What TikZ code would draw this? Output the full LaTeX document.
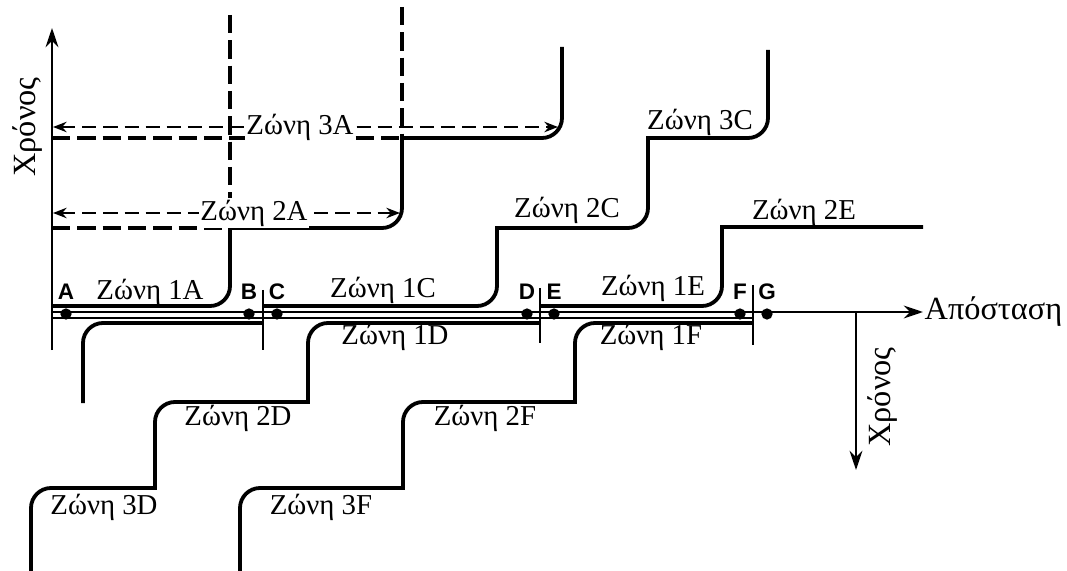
\documentclass[tikz,border=0pt]{standalone}
\usepackage{fontspec}
\setmainfont{Liberation Serif}
\newfontfamily\ptfont{Liberation Sans}
\usetikzlibrary{arrows.meta,positioning}

\begin{document}
\begin{tikzpicture}[x=0.025cm, y=-0.025cm,
  zone/.style={line width=2.7pt},
  rail/.style={line width=2pt},
  guide/.style={line width=2.2pt, dash pattern=on 13pt off 5pt},
  dimarrow/.style={{Stealth[length=3.4mm,width=2.6mm]}-{Stealth[length=3.4mm,width=2.6mm]},
    line width=1.6pt, dash pattern=on 10pt off 5pt},
  axis/.style={-{Stealth[length=4.8mm,width=3.2mm]}, line width=2pt},
  lbl/.style={font=\fontsize{20.5}{24}\selectfont, inner sep=1pt},
  ax/.style={font=\fontsize{23}{26}\selectfont, inner sep=1pt},
  pt/.style={font=\ptfont\bfseries\fontsize{16}{18}\selectfont, inner sep=0pt},
  dot/.style={circle, fill, inner sep=0pt, minimum size=8pt}]
\useasboundingbox (0,0) rectangle (1067,571);

% axes
\coordinate (o) at (52,312);
\coordinate (ytop) at (52,28);
\coordinate (ybot) at (52,350);
\coordinate (xend) at (923,312);
\coordinate (t0) at (856,312);
\coordinate (tend) at (856,470);
\draw[axis] (ybot) -- (ytop);
\draw[axis] (o) -- (xend);
\draw[rail] (52,318) -- (753,318);
\draw[axis] (t0) -- (tend);
\node[ax, rotate=90] (timeL) at (28,127) {Χρόνος};
\node[ax, anchor=west] (dist) at (xend) {Απόσταση};
\node[ax, rotate=90] (timeR) at (883,397) {Χρόνος};

% section ticks
\draw[rail] (263,290) -- (263,350);
\draw[rail] (540,288) -- (540,343);
\draw[rail] (753,285) -- (753,345);

% points
\foreach \n/\x in {A/66, B/249, C/277, D/527, E/554, F/740, G/767} {
  \node[dot] (p\n) at (\x,314) {};
  \node[pt, above=6pt of p\n] (l\n) {\n};
}

% upper zones
\draw[zone] (52,306) -- (210,306) .. controls (221,306) and (230,297) .. (230,286) -- (230,228)
  -- (382,228) .. controls (393,228) and (402,219) .. (402,208) -- (402,138)
  -- (542,138) .. controls (553,138) and (562,129) .. (562,118) -- (562,47);
\draw[zone] (263,306) -- (477,306) .. controls (488,306) and (497,297) .. (497,286) -- (497,228)
  -- (628,228) .. controls (639,228) and (648,219) .. (648,208) -- (648,138)
  -- (748,138) .. controls (759,138) and (768,129) .. (768,118) -- (768,50);
\draw[zone] (540,306) -- (702,306) .. controls (713,306) and (722,297) .. (722,286) -- (722,227)
  -- (923,227);

% lower zones
\draw[zone] (263,323) -- (103,323) .. controls (92,323) and (83,332) .. (83,343) -- (83,403);
\draw[zone] (540,323) -- (328,323) .. controls (317,323) and (308,332) .. (308,343) -- (308,402)
  -- (175,402) .. controls (164,402) and (155,411) .. (155,422) -- (155,488)
  -- (51,488) .. controls (40,488) and (31,497) .. (31,508) -- (31,571);
\draw[zone] (753,323) -- (595,323) .. controls (584,323) and (575,332) .. (575,343) -- (575,402)
  -- (423,402) .. controls (412,402) and (403,411) .. (403,422) -- (403,488)
  -- (260,488) .. controls (249,488) and (240,497) .. (240,508) -- (240,571);

% guides
\draw[guide] (230,15) -- (230,228);
\draw[guide] (402,7) -- (402,138);
\draw[guide] (52,228) -- (230,228);
\draw[guide] (52,138) -- (402,138);

\coordinate (d2l) at (53,213);
\coordinate (d2r) at (400,213);
\coordinate (d3l) at (53,127);
\coordinate (d3r) at (558,127);
\draw[dimarrow] (d2l) -- (d2r);
\draw[dimarrow] (d3l) -- (d3r);
\node[lbl, fill=white] (z2a) at (254,213) {Ζώνη 2A};
\node[lbl, fill=white] (z3a) at (300,127) {Ζώνη 3A};

% zone labels
\node[lbl] (z1a) at (150,292) {Ζώνη 1A};
\node[lbl] (z1c) at (383,290) {Ζώνη 1C};
\node[lbl] (z2c) at (567,210) {Ζώνη 2C};
\node[lbl] (z3c) at (700,122) {Ζώνη 3C};
\node[lbl] (z1e) at (653,288) {Ζώνη 1E};
\node[lbl] (z2e) at (804,212) {Ζώνη 2E};
\node[lbl] (z1d) at (395,337) {Ζώνη 1D};
\node[lbl] (z1f) at (651,337) {Ζώνη 1F};
\node[lbl] (z2d) at (238,418) {Ζώνη 2D};
\node[lbl] (z2f) at (485,418) {Ζώνη 2F};
\node[lbl] (z3d) at (104,507) {Ζώνη 3D};
\node[lbl] (z3f) at (321,507) {Ζώνη 3F};
\end{tikzpicture}
\end{document}
